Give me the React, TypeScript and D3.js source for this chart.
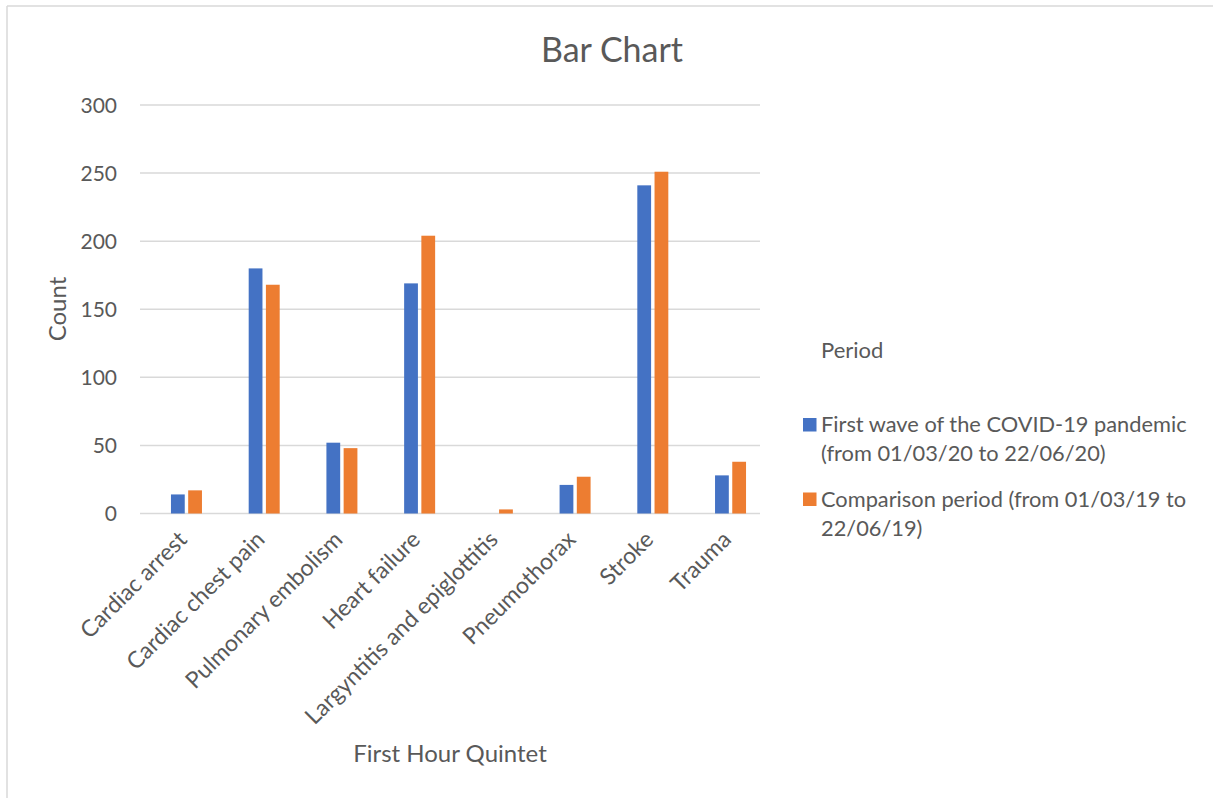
import React from "react";
import * as d3 from "d3";

// Categories on the x axis
const categories: string[] = [
  "Cardiac arrest",
  "Cardiac chest pain",
  "Pulmonary embolism",
  "Heart failure",
  "Largyntitis and epiglottitis",
  "Pneumothorax",
  "Stroke",
  "Trauma",
];

// Counts per period
const firstWave: number[] = [14, 180, 52, 169, 0, 21, 241, 28];
const comparison: number[] = [17, 168, 48, 204, 3, 27, 251, 38];

const seriesNames: string[] = [
  "First wave of the COVID-19 pandemic (from 01/03/20 to 22/06/20)",
  "Comparison period (from 01/03/19 to 22/06/19)",
];
const seriesLegendLines: string[][] = [
  ["First wave of the COVID-19 pandemic", "(from 01/03/20 to 22/06/20)"],
  ["Comparison period (from 01/03/19 to", "22/06/19)"],
];
const seriesColors: string[] = ["#4472C4", "#ED7D31"];

const yTicks: number[] = [0, 50, 100, 150, 200, 250, 300];

const W = 1213;
const H = 798;
const FONT = "Lato, 'Open Sans', sans-serif";
const TEXT = "#595959";
const GRID = "#D9D9D9";

export default function App() {
  const values = [firstWave, comparison];

  const y = d3.scaleLinear().domain([0, 300]).range([513.5, 105]);
  const x0 = d3.scaleBand<string>().domain(categories).range([147.6, 769.4]);
  const bw = x0.bandwidth();
  const x1 = d3
    .scaleBand<number>()
    .domain([0, 1])
    .range([bw / 2 - 15.5, bw / 2 + 15.5])
    .paddingInner(0.2);

  const gridLeft = 140;
  const gridRight = 760;

  return (
    <svg
      width={W}
      height={H}
      style={{ position: "absolute", left: 0, top: 0, background: "#fff" }}
    >
      {/* frame */}
      <line x1={7} y1={6} x2={W} y2={6} stroke={GRID} strokeWidth={1.5} />
      <line x1={7} y1={6} x2={7} y2={H} stroke={GRID} strokeWidth={1.5} />

      {/* title */}
      <text
        x={612}
        y={62}
        textAnchor="middle"
        fontFamily={FONT}
        fontSize={34}
        fill={TEXT}
      >
        Bar Chart
      </text>

      {/* gridlines and y tick labels */}
      {yTicks.map((t) => (
        <g key={t}>
          <line
            x1={gridLeft}
            x2={gridRight}
            y1={y(t)}
            y2={y(t)}
            stroke={GRID}
            strokeWidth={1.5}
          />
          <text
            x={117}
            y={y(t)}
            dy="0.36em"
            textAnchor="end"
            fontFamily={FONT}
            fontSize={21}
            fill={TEXT}
          >
            {t}
          </text>
        </g>
      ))}

      {/* bars */}
      {categories.map((c, i) => (
        <g key={c} transform={`translate(${x0(c)},0)`}>
          {values.map((vals, s) => (
            <rect
              key={s}
              x={x1(s)}
              y={y(vals[i])}
              width={x1.bandwidth()}
              height={y(0) - y(vals[i])}
              fill={seriesColors[s]}
            />
          ))}
        </g>
      ))}

      {/* category labels */}
      {categories.map((c) => {
        const cx = (x0(c) as number) + bw / 2 + 2;
        const cy = 541;
        return (
          <text
            key={c}
            transform={`translate(${cx},${cy}) rotate(-45)`}
            textAnchor="end"
            fontFamily={FONT}
            fontSize={23}
            fill={TEXT}
          >
            {c}
          </text>
        );
      })}

      {/* axis titles */}
      <text
        x={450}
        y={762}
        textAnchor="middle"
        fontFamily={FONT}
        fontSize={24}
        fill={TEXT}
      >
        First Hour Quintet
      </text>
      <text
        transform={`translate(66,309) rotate(-90)`}
        textAnchor="middle"
        fontFamily={FONT}
        fontSize={24}
        fill={TEXT}
      >
        Count
      </text>

      {/* legend */}
      <text x={821} y={358} fontFamily={FONT} fontSize={22} fill={TEXT}>
        Period
      </text>
      {seriesNames.map((name, s) => {
        const top = 418 + s * 74.5;
        return (
          <g key={name}>
            <rect x={803} y={top} width={13.5} height={13.5} fill={seriesColors[s]} />
            {seriesLegendLines[s].map((line, k) => (
              <text
                key={k}
                x={821}
                y={top + 14 + k * 29}
                fontFamily={FONT}
                fontSize={21.8}
                fill={TEXT}
              >
                {line}
              </text>
            ))}
          </g>
        );
      })}
    </svg>
  );
}
